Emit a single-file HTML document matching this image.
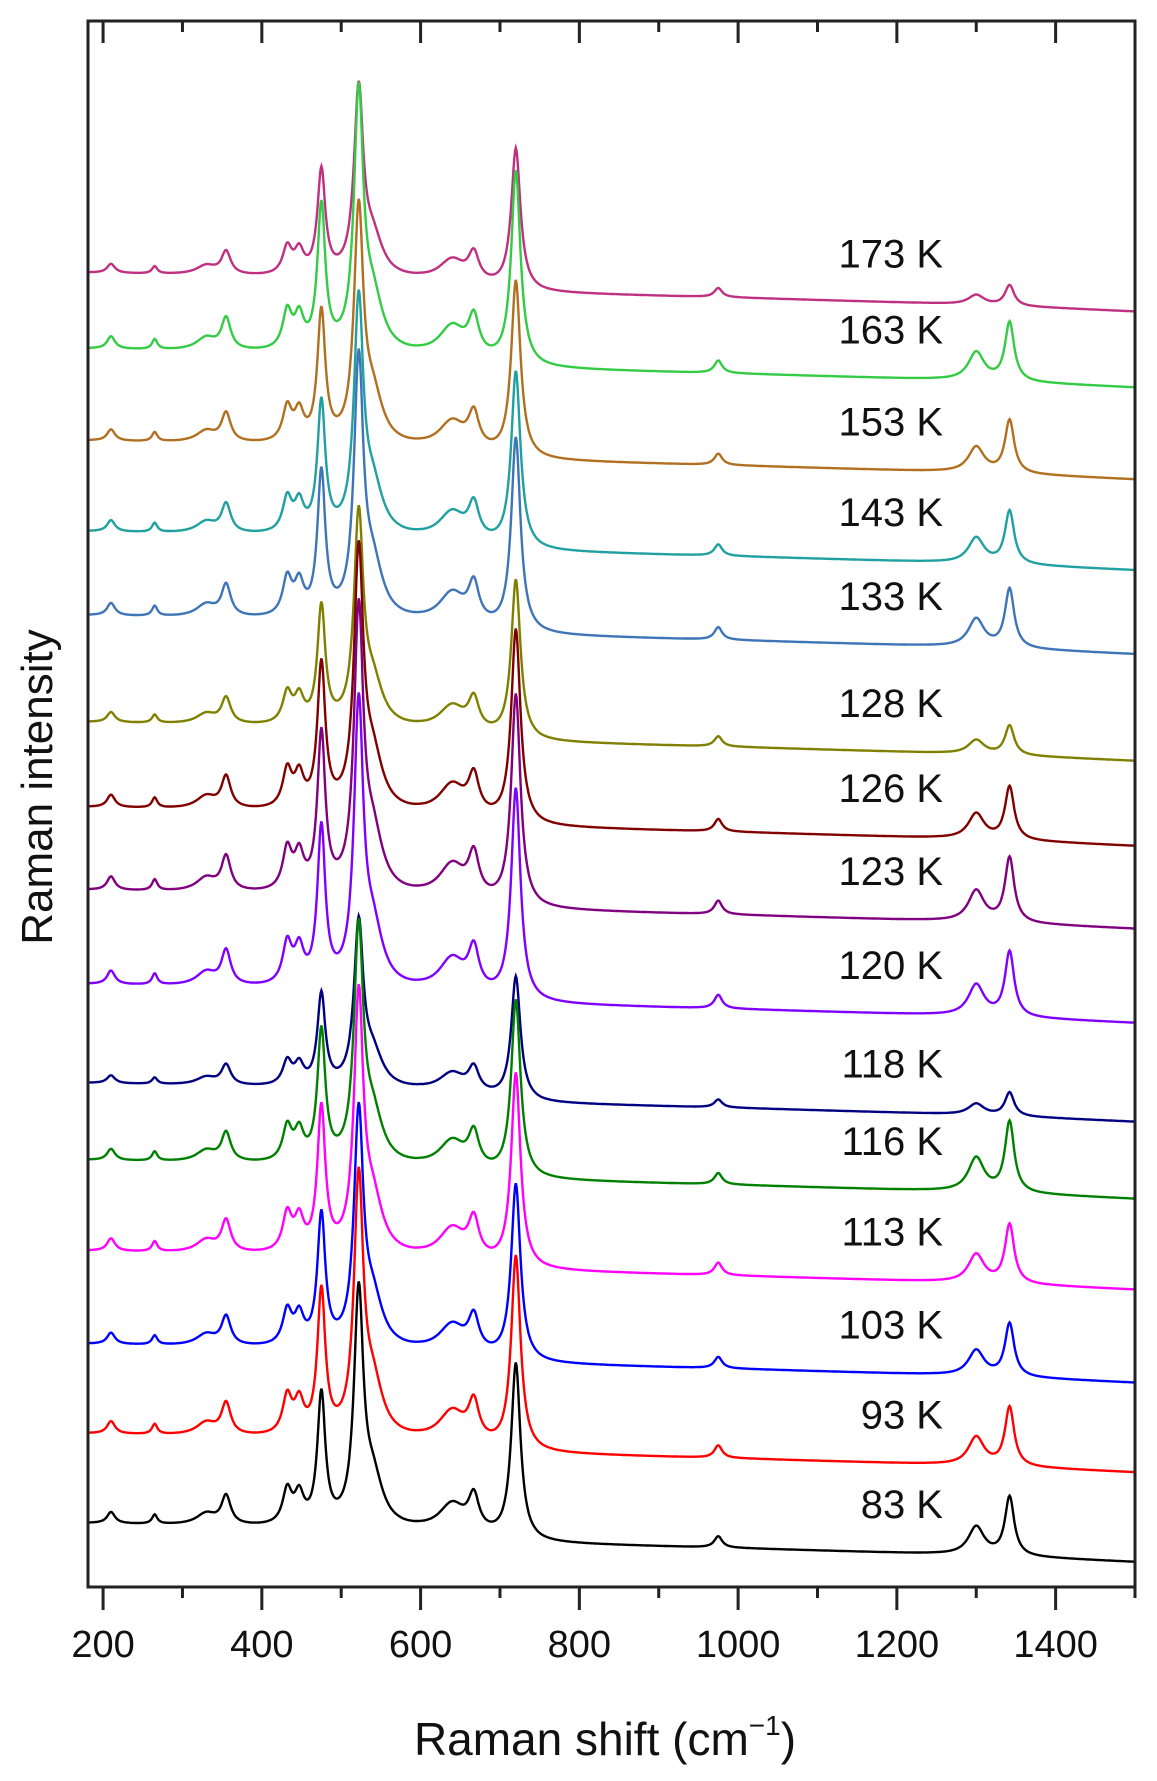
<!DOCTYPE html>
<html><head><meta charset="utf-8">
<style>
html,body{margin:0;padding:0;background:#fff;}
svg{display:block;font-family:"Liberation Sans",Arial,sans-serif;}
</style></head>
<body>
<svg id="chart" width="1157" height="1781" viewBox="0 0 1157 1781" xmlns="http://www.w3.org/2000/svg">
<g id="series-layer"></g>
<rect x="88" y="21" width="1047" height="1566" fill="none" stroke="#222" stroke-width="3"/>
<g id="tick-layer"></g>
<g id="label-layer"></g>
<text x="605" y="1755" font-size="46" text-anchor="middle" fill="#111">Raman shift (cm<tspan font-size="28" dy="-20">−1</tspan><tspan dy="20">)</tspan></text>
<text transform="translate(52,787) rotate(-90)" font-size="44" text-anchor="middle" fill="#111">Raman intensity</text>
</svg>
<script>
// ---- data ----
const temps = [83, 93, 103, 113, 116, 118, 120, 123, 126, 128, 133, 143, 153, 163, 173];
const offsets = [22, 101, 180, 262, 342, 410, 497, 580, 653, 728, 822, 896, 976, 1057, 1124];
const mainScale = [1, 1.1, 1, 1.1, 1, 0.7, 1.2, 1.2, 1.1, 0.9, 1.1, 1, 1, 1.1, 0.8];
const highScale = [1, 1, 0.9, 1, 1.2, 0.4, 1.1, 1.1, 0.9, 0.5, 1, 0.9, 0.9, 1, 0.35];
const colors = ["#000000","#ff0000","#0000ff","#ff00ff","#008000","#000080","#8000ff","#800080","#800000","#808000","#3e74b8","#20a0a0","#b07020","#33cc44","#c03080"];
const peakPos = [210, 265, 330, 355, 432, 447, 475, 522, 540, 640, 667, 720, 975, 1300, 1342];
const peakWidth = [6, 4, 15, 7, 7, 7, 6, 7, 15, 20, 8, 7, 6, 12, 7];
const peakAmp = [10, 8, 10, 25, 30, 25, 115, 200, 40, 25, 30, 155, 10, 25, 52];
const peakHigh = [0,0,0,0,0,0,0,0,0,0,0,0,0,1,1];
const bgX = [181, 300, 400, 600, 750, 1000, 1250, 1400, 1500];
const bgY = [34, 32, 30, 26, 16, 12, 7, 3, 0];
const xTicks = [200, 400, 600, 800, 1000, 1200, 1400];
const xMinor = [300, 500, 700, 900, 1100, 1300, 1500];

// ---- scales ----
const X0 = 181, X1 = 1500, PX0 = 88, PX1 = 1135;
const V0 = 0, V1 = 1380, PY0 = 1587, PY1 = 21;
const xs = v => PX0 + (v - X0) / (X1 - X0) * (PX1 - PX0);
const ys = v => PY0 - (v - V0) / (V1 - V0) * (PY0 - PY1);
const NS = "http://www.w3.org/2000/svg";

function bg(x){
  for (let i = 0; i < bgX.length - 1; i++) {
    if (x <= bgX[i+1]) { const t = (x - bgX[i]) / (bgX[i+1] - bgX[i]); return bgY[i] + t * (bgY[i+1] - bgY[i]); }
  }
  return bgY[bgY.length-1];
}
function spectrum(x, s){
  let v = bg(x);
  for (let k = 0; k < peakPos.length; k++) {
    const sc = peakHigh[k] ? highScale[s] : mainScale[s];
    const d = x - peakPos[k], w = peakWidth[k];
    v += sc * peakAmp[k] * w * w / (d * d + w * w);
  }
  return offsets[s] + v;
}

const sl = document.getElementById('series-layer');
for (let s = temps.length - 1; s >= 0; s--) {
  let d = "";
  for (let x = X0; x <= X1; x += 1) {
    d += (x === X0 ? "M" : "L") + xs(x).toFixed(1) + "," + ys(spectrum(x, s)).toFixed(1);
  }
  const p = document.createElementNS(NS, 'path');
  
  
  p.setAttribute('d', d);
  p.setAttribute('fill', 'none');
  p.setAttribute('stroke', colors[s]);
  p.setAttribute('stroke-width', '2.4');
  sl.appendChild(p);
}

const ll = document.getElementById('label-layer');
for (let s = 0; s < temps.length; s++) {
  const t = document.createElementNS(NS, 'text');
  
  
  t.setAttribute('x', 943);
  t.setAttribute('y', (ys(offsets[s] + 52) + 15).toFixed(1));
  t.setAttribute('text-anchor', 'end');
  t.setAttribute('font-size', '40');
  t.setAttribute('fill', '#111');
  t.textContent = temps[s] + ' K';
  ll.appendChild(t);
}

const tl = document.getElementById('tick-layer');
function line(x1,y1,x2,y2,name){
  const l = document.createElementNS(NS,'line');
  
  
  l.setAttribute('x1',x1);l.setAttribute('y1',y1);l.setAttribute('x2',x2);l.setAttribute('y2',y2);
  l.setAttribute('stroke','#222');l.setAttribute('stroke-width','3');
  tl.appendChild(l);
}
xTicks.forEach(v => {
  const x = xs(v);
  line(x, PY0, x, PY0 + 23, 'x-major-tick');
  line(x, PY1, x, PY1 + 22, 'x-top-tick');
  const t = document.createElementNS(NS,'text');
  
  
  t.setAttribute('x', x); t.setAttribute('y', 1657);
  t.setAttribute('text-anchor','middle'); t.setAttribute('font-size','38'); t.setAttribute('fill','#111');
  t.textContent = v;
  tl.appendChild(t);
});
xMinor.forEach(v => {
  const x = xs(v);
  line(x, PY0, x, PY0 + 11, 'x-minor-tick');
  line(x, PY1, x, PY1 + 11, 'x-top-minor-tick');
});
</script>
</body></html>
